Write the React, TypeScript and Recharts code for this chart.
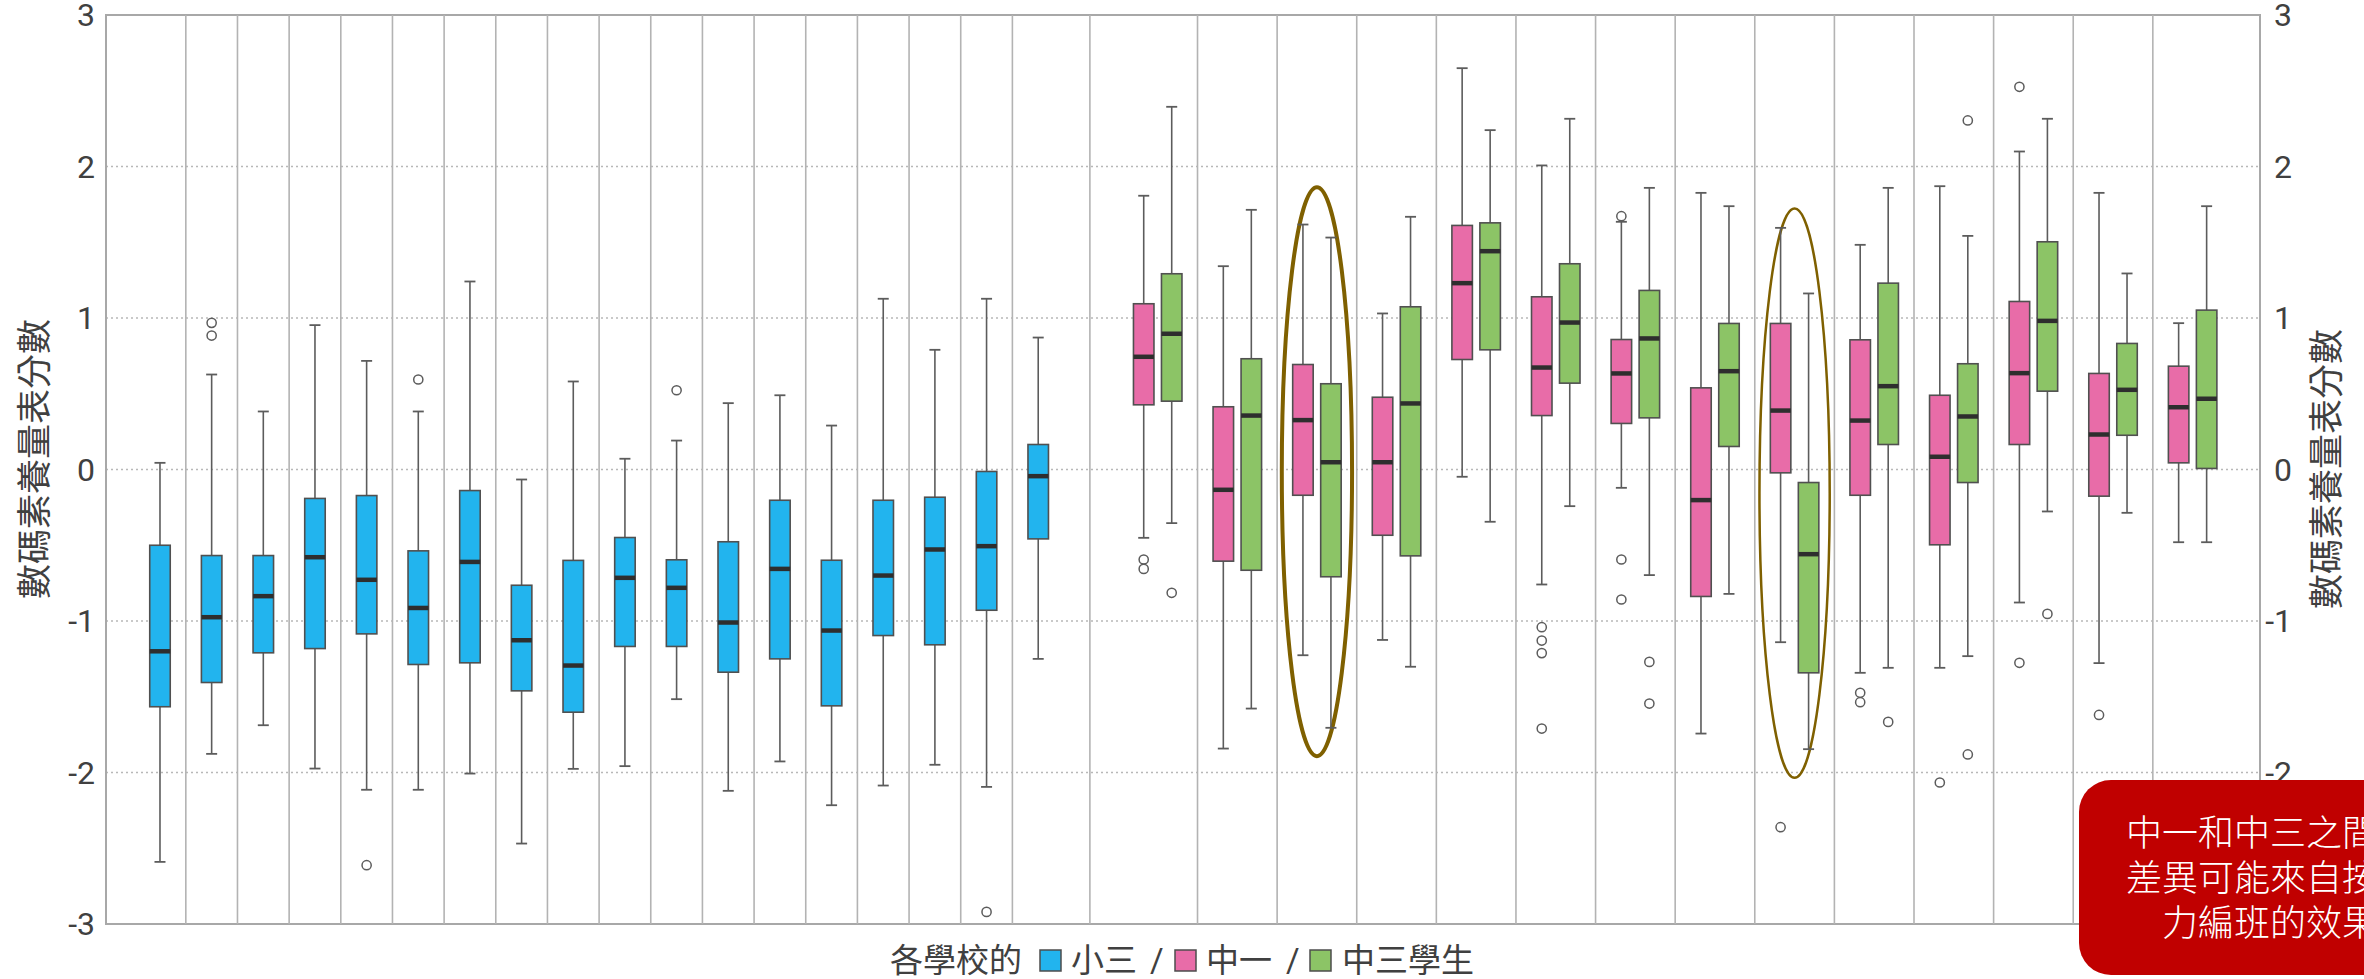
import React from 'react';
import {
  ComposedChart,
  Bar,
  Scatter,
  XAxis,
  YAxis,
  CartesianGrid,
  ReferenceLine,
  ReferenceArea,
} from 'recharts';

// ---------- data ----------
// 小三 (18 schools)
const p3Low = [-2.59, -1.877, -1.688, -1.974, -2.114, -2.114, -2.007, -2.469, -1.976, -1.958, -1.516, -2.121, -1.927, -2.216, -2.086, -1.949, -2.095, -1.25];
const p3Q1 = [-1.566, -1.406, -1.21, -1.182, -1.085, -1.287, -1.276, -1.461, -1.602, -1.168, -1.168, -1.338, -1.25, -1.56, -1.096, -1.157, -0.929, -0.458];
const p3Median = [-1.2, -0.975, -0.836, -0.579, -0.728, -0.914, -0.61, -1.127, -1.294, -0.715, -0.781, -1.01, -0.656, -1.063, -0.7, -0.528, -0.506, -0.044];
const p3Q3 = [-0.5, -0.568, -0.568, -0.191, -0.172, -0.537, -0.139, -0.764, -0.6, -0.449, -0.596, -0.477, -0.203, -0.599, -0.203, -0.183, -0.013, 0.165];
const p3High = [0.044, 0.627, 0.383, 0.953, 0.717, 0.383, 1.241, -0.066, 0.581, 0.071, 0.191, 0.438, 0.49, 0.29, 1.127, 0.79, 1.127, 0.871];
const p3Outliers = [
  { school: 1, value: 0.968 }, { school: 1, value: 0.884 }, { school: 4, value: -2.612 },
  { school: 5, value: 0.594 }, { school: 10, value: 0.523 }, { school: 16, value: -2.92 },
];

// 中一 (14 schools)
const s1Low = [-0.451, -1.842, -1.226, -1.125, -0.048, -0.759, -0.121, -1.743, -1.14, -1.342, -1.309, -0.878, -1.278, -0.48];
const s1Q1 = [0.427, -0.605, -0.17, -0.434, 0.726, 0.356, 0.304, -0.838, -0.022, -0.17, -0.497, 0.165, -0.176, 0.044];
const s1Median = [0.744, -0.134, 0.326, 0.048, 1.23, 0.673, 0.634, -0.202, 0.389, 0.323, 0.084, 0.636, 0.231, 0.411];
const s1Q3 = [1.094, 0.414, 0.693, 0.477, 1.611, 1.14, 0.858, 0.539, 0.964, 0.856, 0.49, 1.109, 0.634, 0.682];
const s1High = [1.807, 1.342, 1.617, 1.03, 2.649, 2.007, 1.635, 1.826, 1.595, 1.483, 1.87, 2.099, 1.826, 0.966];
const s1Outliers = [
  { school: 0, value: -0.594 }, { school: 0, value: -0.656 },
  { school: 5, value: -1.041 }, { school: 5, value: -1.129 }, { school: 5, value: -1.212 }, { school: 5, value: -1.71 },
  { school: 6, value: 1.672 }, { school: 6, value: -0.594 }, { school: 6, value: -0.858 },
  { school: 8, value: -2.361 }, { school: 9, value: -1.474 }, { school: 9, value: -1.536 },
  { school: 10, value: -2.066 }, { school: 11, value: 2.526 }, { school: 11, value: -1.276 },
  { school: 12, value: -1.62 },
];

// 中三 (14 schools)
const s3Low = [-0.354, -1.578, -1.705, -1.302, -0.345, -0.242, -0.697, -0.821, -1.846, -1.309, -1.232, -0.277, -0.286, -0.48];
const s3Q1 = [0.451, -0.665, -0.708, -0.57, 0.79, 0.57, 0.341, 0.152, -1.342, 0.165, -0.086, 0.517, 0.226, 0.007];
const s3Median = [0.896, 0.356, 0.048, 0.436, 1.441, 0.97, 0.865, 0.649, -0.559, 0.55, 0.35, 0.981, 0.526, 0.467];
const s3Q3 = [1.292, 0.731, 0.566, 1.074, 1.628, 1.358, 1.182, 0.964, -0.086, 1.23, 0.698, 1.503, 0.832, 1.052];
const s3High = [2.394, 1.714, 1.531, 1.668, 2.24, 2.315, 1.859, 1.738, 1.162, 1.859, 1.542, 2.315, 1.294, 1.738];
const s3Outliers = [
  { school: 0, value: -0.814 }, { school: 6, value: -1.27 }, { school: 6, value: -1.545 },
  { school: 9, value: -1.666 }, { school: 10, value: 2.304 }, { school: 10, value: -1.881 },
  { school: 11, value: -0.953 },
];

const yTicks = [-3, -2, -1, 0, 1, 2, 3];

// highlighted pairs (中一 vs 中三) with ellipse extents
const highlights = [
  { school: 2, low: -1.892, high: 1.863, weight: 4 },
  { school: 8, low: -2.035, high: 1.723, weight: 2.5 },
];

const axisTitle = '數碼素養量表分數';
const noteLines = ['中一和中三之間的', '差異可能來自按能', '力編班的效果'];

// ---------- layout ----------
const W = 2364;
const H = 979;
const FONT = 'Roboto, "Noto Sans CJK TC", sans-serif';
const CJK = '"Noto Sans CJK TC", sans-serif';
const BLUE = '#22B4EE';
const PINK = '#E86CA8';
const GREEN = '#8CC466';
const X_MIN = -1.045;
const X_MAX = 40.65;
const PAIR_START = 19.313;
const PAIR_STEP = 1.541;
const PAIR_OFFSET = 0.271;
const GAP_LINE = 18;
const BOX_W = 20.5;
const TICK_FS = 32;

const pairCenter = (j: number) => PAIR_START + PAIR_STEP * j;

type Row = { x: number; lo: number; q1: number; med: number; q3: number; hi: number; color: string };

const rows: Row[] = [
  ...p3Low.map((lo, i) => ({ x: i, lo, q1: p3Q1[i], med: p3Median[i], q3: p3Q3[i], hi: p3High[i], color: BLUE })),
  ...s1Low.map((lo, j) => ({ x: pairCenter(j) - PAIR_OFFSET, lo, q1: s1Q1[j], med: s1Median[j], q3: s1Q3[j], hi: s1High[j], color: PINK })),
  ...s3Low.map((lo, j) => ({ x: pairCenter(j) + PAIR_OFFSET, lo, q1: s3Q1[j], med: s3Median[j], q3: s3Q3[j], hi: s3High[j], color: GREEN })),
].sort((a, b) => a.x - b.x);

const outlierRows = [
  ...p3Outliers.map((o) => ({ x: o.school, v: o.value })),
  ...s1Outliers.map((o) => ({ x: pairCenter(o.school) - PAIR_OFFSET, v: o.value })),
  ...s3Outliers.map((o) => ({ x: pairCenter(o.school) + PAIR_OFFSET, v: o.value })),
];

// invisible anchor points so the right-hand axis has a series bound to it
const rightAnchorRows = yTicks.map((v) => ({ x: X_MIN, r: v }));

const separators = [
  ...p3Low.slice(1).map((_, i) => i + 0.5),
  GAP_LINE,
  ...s1Low.slice(1).map((_, k) => pairCenter(k) + PAIR_STEP / 2),
];

const BoxShape = (props: any) => {
  const { x, y, width, height } = props;
  const d: Row = props.payload ?? props;
  if (x == null || y == null || !d || d.hi == null) return null;
  const cx = x + width / 2;
  const top = Math.min(y, y + height);
  const bottom = Math.max(y, y + height);
  const span = d.hi - d.lo;
  const py = (v: number) => top + ((bottom - top) * (d.hi - v)) / span;
  const capW = 5.5;
  const wc = '#5c5c5c';
  return (
    <g>
      <line x1={cx} x2={cx} y1={py(d.hi)} y2={py(d.q3)} stroke={wc} strokeWidth={1.6} />
      <line x1={cx} x2={cx} y1={py(d.q1)} y2={py(d.lo)} stroke={wc} strokeWidth={1.6} />
      <line x1={cx - capW} x2={cx + capW} y1={py(d.hi)} y2={py(d.hi)} stroke={wc} strokeWidth={1.8} />
      <line x1={cx - capW} x2={cx + capW} y1={py(d.lo)} y2={py(d.lo)} stroke={wc} strokeWidth={1.8} />
      <rect x={cx - BOX_W / 2} y={py(d.q3)} width={BOX_W} height={py(d.q1) - py(d.q3)} fill={d.color} stroke="#505050" strokeWidth={1.6} />
      <line x1={cx - BOX_W / 2} x2={cx + BOX_W / 2} y1={py(d.med)} y2={py(d.med)} stroke="#2e2e2e" strokeWidth={4.5} />
    </g>
  );
};

const OutlierShape = (p: any) =>
  p.cx == null ? null : <circle cx={p.cx} cy={p.cy} r={4.6} fill="#fff" stroke="#5c5c5c" strokeWidth={1.5} />;

const NoShape = () => <g />;

const RightTick = (p: any) => {
  const v = p.payload && p.payload.value != null ? p.payload.value : '';
  return (
    <text x={Number(p.x) + 24} y={p.y} dy="0.355em" textAnchor="end" fontSize={TICK_FS} fill="#404040" fontFamily={FONT}>
      {v}
    </text>
  );
};

const makeEllipse = (weight: number) => (p: any) =>
  p.x == null ? null : (
    <ellipse
      cx={p.x + p.width / 2}
      cy={p.y + p.height / 2}
      rx={Math.abs(p.width) / 2}
      ry={Math.abs(p.height) / 2}
      fill="none"
      stroke="#7F6000"
      strokeWidth={weight}
    />
  );

const Overlay = () => {
  const legendY = 972;
  const sq = (x: number, color: string) => (
    <rect x={x} y={950} width={21} height={21} fill={color} stroke="#4d4d4d" strokeWidth={1.5} />
  );
  const txt = { fontSize: 33, fill: '#404040', fontFamily: CJK };
  return (
    <svg width={W} height={H} style={{ position: 'absolute', left: 0, top: 0, pointerEvents: 'none' }}>
      <text transform="translate(31,459) rotate(-90)" textAnchor="middle" dominantBaseline="central" fontSize={35} fill="#404040" fontFamily={CJK}>
        {axisTitle}
      </text>
      <text transform="translate(2323,469) rotate(-90)" textAnchor="middle" dominantBaseline="central" fontSize={35} fill="#404040" fontFamily={CJK}>
        {axisTitle}
      </text>
      <text x={890} y={legendY} {...txt}>各學校的</text>
      {sq(1040, BLUE)}
      <text x={1071} y={legendY} {...txt}>小三</text>
      <text x={1150} y={legendY} {...txt} fontFamily={FONT}>/</text>
      {sq(1175, PINK)}
      <text x={1206} y={legendY} {...txt}>中一</text>
      <text x={1286} y={legendY} {...txt} fontFamily={FONT}>/</text>
      {sq(1310, GREEN)}
      <text x={1342} y={legendY} {...txt}>中三學生</text>
      <rect x={2079} y={780} width={382} height={195} rx={32} ry={32} fill="#C00000" />
      {noteLines.map((line, i) => (
        <text key={i} x={2270} y={846 + i * 45} textAnchor="middle" fontSize={36} fontWeight={300} fill="#ffffff" fontFamily={CJK}>
          {line}
        </text>
      ))}
    </svg>
  );
};

export default function App() {
  return (
    <div style={{ position: 'relative', width: W, height: H, background: '#fff' }}>
      <style>{'body{margin:0;background:#fff}'}</style>
      <ComposedChart width={W} height={H} data={rows} margin={{ top: 15, right: 0, bottom: 55, left: 0 }}>
        <CartesianGrid yAxisId="left" vertical={false} stroke="#b8b8b8" strokeDasharray="2 3" strokeWidth={1.5} />
        <XAxis dataKey="x" type="number" domain={[X_MIN, X_MAX]} allowDataOverflow hide />
        <YAxis
          yAxisId="left"
          orientation="left"
          type="number"
          domain={[-3, 3]}
          ticks={yTicks}
          interval={0}
          width={106}
          axisLine={false}
          tickLine={false}
          tickSize={6}
          tickMargin={5}
          tick={{ fontSize: TICK_FS, fill: '#404040', fontFamily: FONT }}
        />
        <YAxis
          yAxisId="right"
          orientation="right"
          type="number"
          domain={[-3, 3]}
          ticks={yTicks}
          interval={0}
          width={104}
          axisLine={false}
          tickLine={false}
          tickSize={6}
          tickMargin={2}
          tick={RightTick}
          allowDataOverflow
        />
        {separators.map((v, i) => (
          <ReferenceLine key={'s' + i} yAxisId="left" x={v} stroke="#b3b3b3" strokeWidth={1.6} />
        ))}
        <ReferenceArea yAxisId="left" x1={X_MIN} x2={X_MAX} y1={-3} y2={3} fill="none" fillOpacity={0} stroke="#a8a8a8" strokeWidth={2} />
        <Bar yAxisId="left" dataKey={(d: Row) => [d.lo, d.hi]} barSize={22} shape={BoxShape} isAnimationActive={false} />
        <Scatter yAxisId="left" data={outlierRows} dataKey="v" shape={OutlierShape} isAnimationActive={false} />
        <Scatter yAxisId="right" data={rightAnchorRows} dataKey="r" shape={NoShape} isAnimationActive={false} legendType="none" />
        {highlights.map((h, i) => (
          <ReferenceArea
            key={'e' + i}
            yAxisId="left"
            x1={pairCenter(h.school) - 0.68}
            x2={pairCenter(h.school) + 0.68}
            y1={h.low}
            y2={h.high}
            shape={makeEllipse(h.weight)}
          />
        ))}
      </ComposedChart>
      <Overlay />
    </div>
  );
}
